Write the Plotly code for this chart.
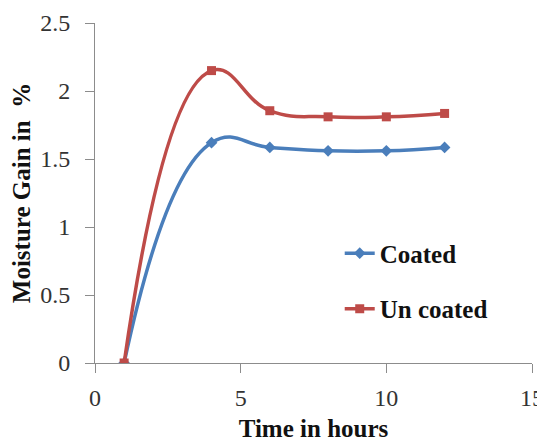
import plotly.graph_objects as go

hours = [1, 4, 6, 8, 10, 12]
coated = [0, 1.62, 1.585, 1.56, 1.56, 1.585]
uncoated = [0, 2.15, 1.855, 1.81, 1.81, 1.835]

blue = "#4A7EBB"
red = "#BE4B48"
axis_gray = "#8C8C8C"
font_family = "Liberation Serif, Times New Roman, serif"

fig = go.Figure()
fig.add_trace(go.Scatter(
    x=hours, y=coated, name="Coated", mode="lines+markers",
    line=dict(color=blue, width=3.5, shape="spline", smoothing=1.3),
    marker=dict(symbol="diamond", size=9, color=blue),
    legendgroup="a", showlegend=True,
))
fig.add_trace(go.Scatter(
    x=hours, y=uncoated, name="Un coated", mode="lines+markers",
    line=dict(color=red, width=3.5, shape="spline", smoothing=1.3),
    marker=dict(symbol="square", size=9, color=red),
    legendgroup="b", showlegend=True,
))

fig.update_layout(
    width=537, height=434,
    margin=dict(l=87, r=13, t=15, b=79, autoexpand=False),
    plot_bgcolor="white", paper_bgcolor="white",
    font=dict(family=font_family, size=24, color="#333333"),
    showlegend=True,
    legend=dict(
        x=0.56, y=0.39, xanchor="left", yanchor="top",
        font=dict(family=font_family, size=25, color="#111111", weight="bold"),
        bgcolor="rgba(0,0,0,0)", traceorder="grouped", tracegroupgap=20,
    ),
    xaxis=dict(
        range=[0, 15], tickvals=[0, 5, 10, 15], ticks="outside",
        ticklen=9, tickcolor=axis_gray, showline=True, linecolor=axis_gray,
        linewidth=1, showgrid=False, zeroline=False,
        title=dict(text="<b>Time in hours</b>", font=dict(size=25, color="#111111"), standoff=14),
        tickfont=dict(size=24), ticklabelstandoff=4,
    ),
    yaxis=dict(
        range=[0, 2.5], tickvals=[0, 0.5, 1, 1.5, 2, 2.5],
        ticktext=["0", "0.5", "1", "1.5", "2", "2.5"],
        ticks="outside", ticklen=9, tickcolor=axis_gray, showline=True,
        linecolor=axis_gray, linewidth=1, showgrid=False, zeroline=False,
        title=dict(text="<b>Moisture Gain in  %</b>", font=dict(size=25, color="#111111"), standoff=6),
        tickfont=dict(size=24), ticklabelstandoff=10,
    ),
)

fig.write_html("out.html")
